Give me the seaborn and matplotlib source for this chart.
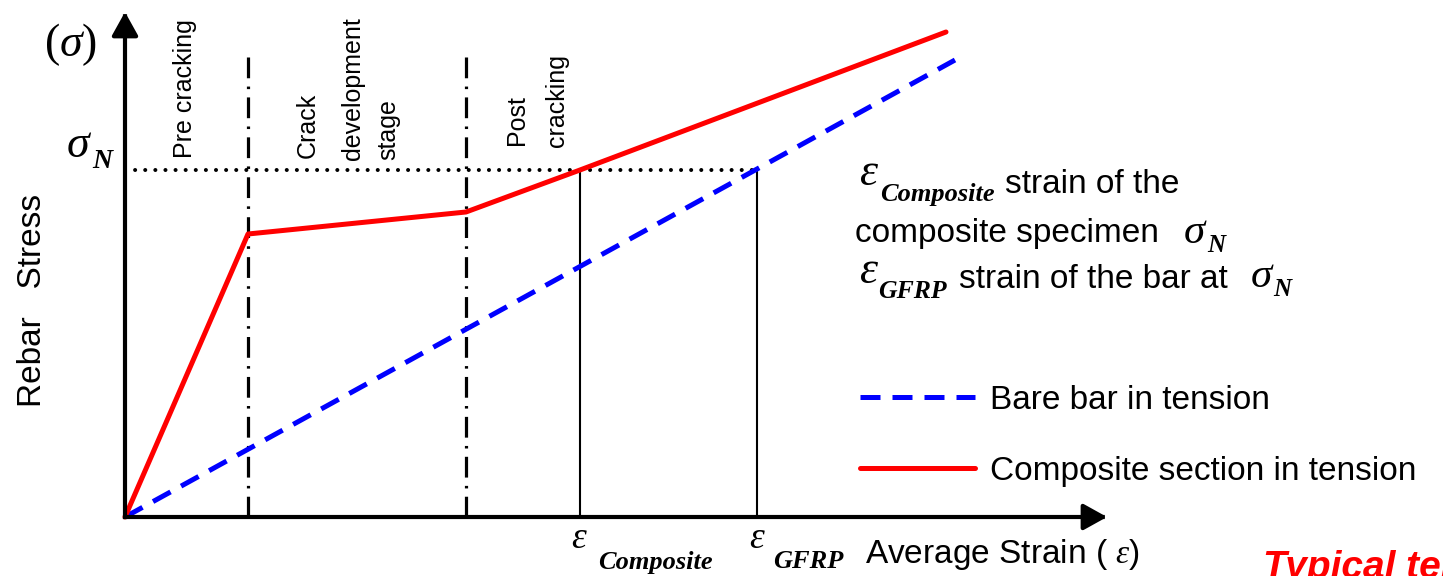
import matplotlib
matplotlib.use("Agg")
import matplotlib.pyplot as plt
import numpy as np
import pandas as pd
import seaborn as sns

# ---- schematic data (strain, stress in arbitrary units) ----
composite_strain = [0, 123, 341, 455, 821]
composite_stress = [0, 283, 305, 347, 485]
bare_strain = [0, 830]
bare_stress = [0, 457]
stage_bounds = [123, 341]
stage_top = 462
sigma_N = 347
eps_composite = 455
eps_gfrp = 632
stage_labels = ["Pre cracking", "Crack", "development", "stage", "Post", "cracking"]
series_labels = ["Bare bar in tension", "Composite section in tension"]

sns.set_theme(style="white")
plt.rcParams['font.family'] = ['Liberation Sans', 'DejaVu Sans']
plt.rcParams['text.color'] = 'black'
plt.rcParams['mathtext.fontset'] = 'custom'
plt.rcParams['mathtext.rm'] = 'Liberation Serif'
plt.rcParams['mathtext.it'] = 'Liberation Serif:italic'
plt.rcParams['mathtext.bf'] = 'Liberation Serif:italic:bold'

fig = plt.figure(figsize=(14.43, 5.76), dpi=100)
ax = fig.add_axes([0, 0, 1, 1])
ax.set_xlim(-125, 1318)
ax.set_ylim(-59, 517)
ax.axis('off')

comp_df = pd.DataFrame({"strain": composite_strain, "stress": composite_stress})
bare_df = pd.DataFrame({"strain": bare_strain, "stress": bare_stress})

sns.lineplot(data=bare_df, x="strain", y="stress", ax=ax, color="#0000FF", lw=3.6,
             linestyle=(0, (4.0, 2.4)), sort=False, estimator=None, zorder=4,
             label=series_labels[0], legend=False)
sns.lineplot(data=comp_df, x="strain", y="stress", ax=ax, color="#FF0000", lw=3.6,
             sort=False, estimator=None, zorder=5, solid_capstyle='round',
             label=series_labels[1], legend=False)

# stage boundaries (dash-dot)
ax.vlines(stage_bounds, 0, stage_top, colors='black', lw=2.3,
          linestyles=[(0, (6.5, 2.6, 0.8, 2.6))], zorder=3)
# sigma_N dotted line
dl = ax.hlines(sigma_N, 0, eps_gfrp, colors='black', lw=2.9,
               linestyles=[(0, (0.01, 2.5))], zorder=3)
dl.set_capstyle('round')
# thin lines at characteristic strains
ax.vlines([eps_composite, eps_gfrp], 0, sigma_N, colors='black', lw=1.5, zorder=3)

# axes arrows
arrow_kw = dict(arrowstyle='-|>,head_length=0.72,head_width=0.4', lw=3, color='black',
                mutation_scale=20, shrinkA=0, shrinkB=0, capstyle='projecting')
ax.annotate('', xy=(0, 505), xytext=(0, 0), arrowprops=arrow_kw, zorder=6)
ax.annotate('', xy=(982, 0), xytext=(0, 0), arrowprops=arrow_kw, zorder=6)

# stage labels
stage_x = [60, 183, 228, 263, 392, 432]
stage_y = [359, 359, 357, 357, 372, 370]
for t, x, y in zip(stage_labels, stage_x, stage_y):
    ax.text(x, y, t, rotation=90, ha='center', va='bottom', fontsize=18)

# y-axis labels
ax.text(-92, 217, "Rebar   Stress", rotation=90, ha='center', va='center', fontsize=24)
ax.text(-54, 472, r"$(\sigma)$", ha='center', va='center', fontsize=33)

def sym(x, y, main, sub, size, subsize, sx, sy):
    ax.text(x, y, main, ha='center', va='center', fontsize=size,
            family='Liberation Serif', style='italic')
    ax.text(sx, sy, sub, ha='left', va='center', fontsize=subsize,
            family='Liberation Serif', style='italic', weight='bold')

sym(-47, 371, "σ", "N", 33, 20, -33, 356)

# x-axis labels
sym(454, -22, "ε", "Composite", 27, 19, 473, -45)
sym(632, -22, "ε", "GFRP", 27, 19, 648, -45)
ax.text(740, -38, r"Average Strain ( $\varepsilon$)", ha='left', va='center', fontsize=24)

# definitions block
sym(743, 343, "ε", "Composite", 33, 19, 755, 323)
ax.text(880, 324, "strain of the", ha='left', va='baseline', fontsize=24)
ax.text(730, 275, "composite specimen", ha='left', va='baseline', fontsize=24)
sym(1069, 284, "σ", "N", 31, 18, 1082, 271)
sym(743, 245, "ε", "GFRP", 33, 18.5, 753, 225)
ax.text(1103, 229, "strain of the bar at", ha='right', va='baseline', fontsize=24)
sym(1136, 240, "σ", "N", 31, 18, 1148, 227)

# legend
handles = ax.get_lines()[:2]
ax.legend(handles=handles, labels=series_labels, loc='upper left',
          bbox_to_anchor=(860 / 1443, 1 - 385 / 576), bbox_transform=fig.transFigure,
          frameon=False, borderpad=0, borderaxespad=0, handlelength=3.45,
          handletextpad=0.45, labelspacing=1.2, fontsize=24)

ax.text(1138, -61, "Typical tension", ha='left', va='baseline', fontsize=28,
        color='#FF0000', weight='bold', style='italic')

fig.savefig("out.png", dpi=100)
